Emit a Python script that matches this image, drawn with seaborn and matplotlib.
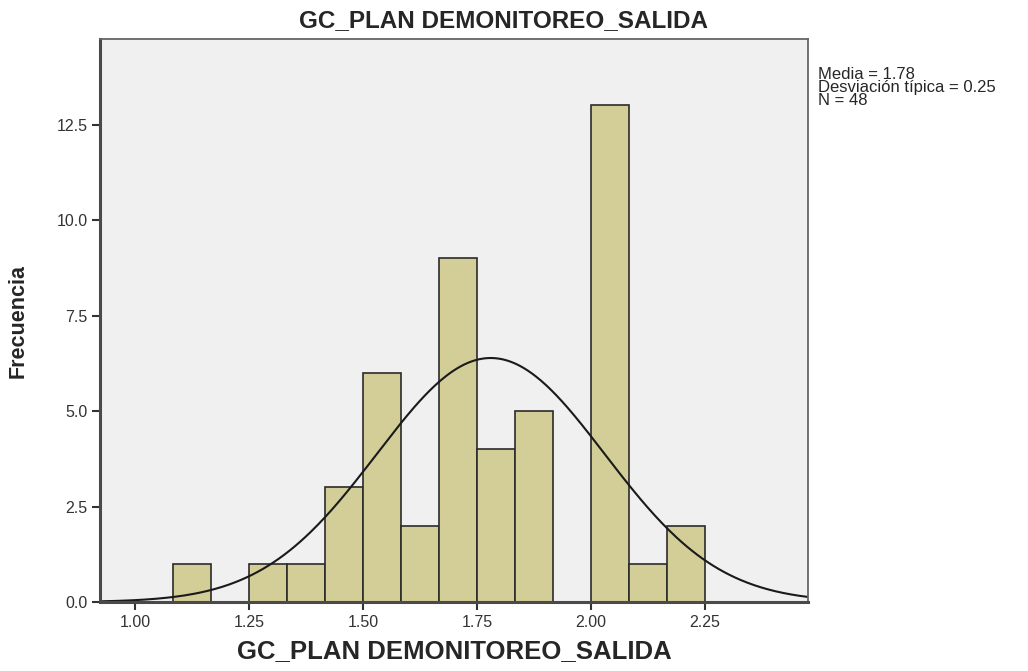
import numpy as np
import pandas as pd
import seaborn as sns
import matplotlib.pyplot as plt

# bins (width 1/12)
bin_edges = [1.0833, 1.1667, 1.25, 1.3333, 1.4167, 1.5, 1.5833, 1.6667,
             1.75, 1.8333, 1.9167, 2.0, 2.0833, 2.1667, 2.25]
counts = [1, 0, 1, 1, 3, 6, 2, 9, 4, 5, 0, 13, 1, 2]
media = 1.78
desv = 0.25
n = 48
x_ticks = [1.00, 1.25, 1.50, 1.75, 2.00, 2.25]
y_ticks = [0.0, 2.5, 5.0, 7.5, 10.0, 12.5]
titulo = "GC_PLAN DEMONITOREO_SALIDA"

centros = [(bin_edges[i] + bin_edges[i + 1]) / 2 for i in range(len(counts))]
df = pd.DataFrame({"valor": centros, "frecuencia": counts})

sns.set_style("white")
plt.rcParams['font.family'] = ['Liberation Sans', 'DejaVu Sans']

fig = plt.figure(figsize=(10.28, 6.71), dpi=100)
ax = fig.add_axes([0.0973, 0.1028, 0.6887, 0.8391])
ax.set_facecolor("#F0F0F0")

sns.histplot(data=df, x="valor", weights="frecuencia", bins=bin_edges,
             color="#D3CE97", alpha=1, edgecolor="#2b2b2b", linewidth=1.2, ax=ax)

# curva normal de SPSS
ancho = bin_edges[1] - bin_edges[0]
xs = np.linspace(0.92, 2.48, 400)
ys = n * ancho * np.exp(-0.5 * ((xs - media) / desv) ** 2) / (desv * np.sqrt(2 * np.pi))
sns.lineplot(x=xs, y=ys, color="#1a1a1a", linewidth=1.5, ax=ax)

ax.set_xlim(0.923, 2.476)
ax.set_ylim(0, 14.74)
ax.set_xticks(x_ticks)
ax.set_xticklabels([f"{v:.2f}" for v in x_ticks])
ax.set_yticks(y_ticks)
ax.set_yticklabels([f"{v:.1f}" for v in y_ticks])
ax.tick_params(axis="both", direction="out", length=6, width=1.5, color="#333333",
               labelsize=11.5, labelcolor="#333333", pad=3, bottom=True, left=True)

for lado in ["left", "bottom"]:
    ax.spines[lado].set_linewidth(2.2)
    ax.spines[lado].set_color("#4a4a4a")
for lado in ["top", "right"]:
    ax.spines[lado].set_linewidth(1.3)
    ax.spines[lado].set_color("#666666")

ax.set_xlabel(titulo, fontsize=18.5, fontweight="bold", labelpad=7)
ax.set_ylabel("Frecuencia", fontsize=15.5, fontweight="bold", labelpad=20)

fig.text(0.49, 0.970, titulo, fontsize=17.5, fontweight="bold", ha="center", va="center")
fig.text(0.796, 0.900, f"Media = {media:.2f}\nDesviación típica = {desv:.2f}\nN = {n}",
         fontsize=12, va="top", ha="left", linespacing=0.82)

fig.savefig("out.png", dpi=100)
